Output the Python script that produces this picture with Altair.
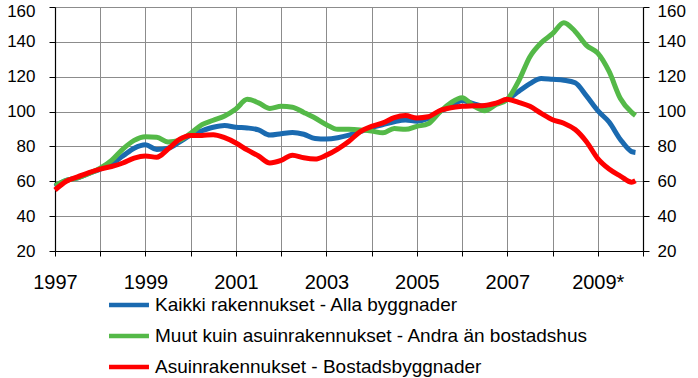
import altair as alt
import pandas as pd

# Quarterly observations (Jan, Apr, Jul, Oct) 1997-2009, last one Nov 2009
dates = [(y, m) for y in range(1997, 2010) for m in (1, 4, 7, 10)] + [(2009, 11)]

kaikki = [57, 60.5, 62, 64.5,
          67, 70, 74.5, 79,
          81, 78.2, 79, 82.5,
          86.5, 89, 91, 92,
          91, 90.6, 89.5, 86.5,
          87.3, 88, 87, 84.6,
          84.3, 85, 86.5, 88.5,
          90.8, 92.5, 94.2, 95.2,
          94.5, 96, 100, 103,
          106.3, 104.5, 103, 104.5,
          107, 111.5, 116, 119,
          118.5, 118, 116.5, 109,
          100.5, 94, 84, 77,
          76.5]

muut = [57.5, 60.5, 62, 64.5,
        67.5, 72, 78.5, 83.5,
        85.6, 85.3, 82.6, 83.5,
        87.5, 92.5, 95, 97.5,
        101.5, 107, 105, 101.8,
        103, 102.5, 99.5, 96.3,
        92.5, 89.8, 89.8, 89.5,
        88.8, 87.8, 90.3, 89.8,
        91.5, 93, 99.5, 105,
        108, 103.3, 100.5, 104,
        107, 117.5, 131.5, 139.5,
        144.7, 151, 146, 138,
        133.5, 123, 107.5, 99.5,
        97.8]

asuin = [55, 60, 62.5, 65,
         67, 68.5, 70.5, 73.3,
         74.5, 73.8, 78.5, 84,
         86.2, 86.3, 86.7, 85,
         82, 78, 74.5, 70.5,
         72, 75, 73.5, 72.8,
         75, 78.5, 83, 88.5,
         91.5, 93.5, 96.5, 97.7,
         96.3, 97, 100.5, 102.2,
         103, 103.3, 103.5, 104.8,
         107, 105.3, 103, 99,
         95.3, 93.3, 89.7, 82.7,
         73, 67, 63, 59.5,
         60.3]

names = ["Kaikki rakennukset - Alla byggnader",
         "Muut kuin asuinrakennukset - Andra än bostadshus",
         "Asuinrakennukset - Bostadsbyggnader"]
colors = ["#1a6ab0", "#54b948", "#ff0000"]
x_ticks = list(range(1997, 2011))
y_ticks = [20, 40, 60, 80, 100, 120, 140, 160]

rows = []
for name, vals in zip(names, [kaikki, muut, asuin]):
    for (yr, mo), v in zip(dates, vals):
        rows.append({"t": yr + (mo - 1) / 12, "serie": name, "v": v})
df = pd.DataFrame(rows)

FONT = "Liberation Sans"
xscale = alt.Scale(domain=[1997, 2010], nice=False, zero=False)
yscale = alt.Scale(domain=[20, 160], nice=False, zero=False)
top_shift = {"condition": {"test": "datum.value == 160", "value": 4}, "value": 0}

x_enc = alt.X("t:Q", scale=xscale, axis=alt.Axis(
    values=x_ticks, format="d", title=None,
    labelExpr="datum.value % 2 == 1 ? datum.label + (datum.value == 2009 ? '*' : '') : ''",
    labelOverlap=False, labelFlush=False,
    grid=True, gridColor="#8c8c8c", gridWidth=1,
    domainColor="black", domainWidth=1.2,
    tickColor="black", tickSize=5, tickWidth=1,
    labelFont=FONT, labelFontSize=20, labelColor="black", labelPadding=16))

color_enc = alt.Color("serie:N", scale=alt.Scale(domain=names, range=colors),
    legend=alt.Legend(orient="none", legendX=58, legendY=282, direction="vertical",
                      title=None, symbolType="M-1.48,0H1.48", symbolSize=729,
                      symbolStrokeWidth=4.5, labelFont=FONT, labelFontSize=19,
                      labelColor="black", labelOffset=10, rowPadding=5,
                      labelLimit=700))

y_left = alt.Y("v:Q", scale=yscale, axis=alt.Axis(
    values=y_ticks, title=None, orient="left",
    grid=True, gridColor="#8c8c8c", gridWidth=1,
    domainColor="black", domainWidth=1.2,
    tickColor="black", tickSize=6,
    labelOffset=top_shift,
    labelFont=FONT, labelFontSize=17, labelColor="black", labelPadding=14))

y_right = alt.Y("v:Q", scale=yscale, axis=alt.Axis(
    values=y_ticks, title=None, orient="right", grid=False,
    domainColor="black", domainWidth=1.2,
    tickColor="black", tickSize=6,
    labelOffset=top_shift,
    labelFont=FONT, labelFontSize=17, labelColor="black", labelPadding=8))

base = alt.Chart(df)
layers = []
for name in names:
    layers.append(base.transform_filter(alt.datum.serie == name)
                  .mark_line(strokeWidth=5, interpolate="monotone")
                  .encode(x=x_enc, y=y_left, color=color_enc))

lines = alt.layer(*layers)
right = base.mark_line(strokeOpacity=0).encode(x=x_enc, y=y_right, detail="serie:N")

chart = alt.layer(lines, right).resolve_scale(y="independent").properties(
    width=588, height=244,
    autosize=alt.AutoSizeParams(type="none"),
    padding={"left": 55, "top": 7, "right": 55, "bottom": 127},
    background="white",
).configure_view(stroke=None)

chart.save("out.html", embed_options={"renderer": "svg", "actions": False})
